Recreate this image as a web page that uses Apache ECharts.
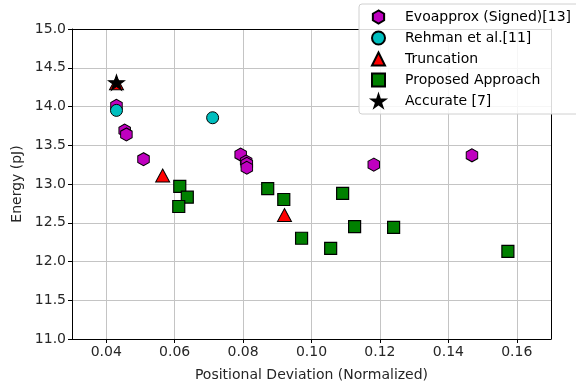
<!DOCTYPE html>
<html>
<head>
<meta charset="utf-8">
<script src="https://cdn.jsdelivr.net/npm/echarts@6/dist/echarts.min.js"></script>
<style>html,body{margin:0;padding:0;background:#fff}#c{width:576px;height:387px}</style>
</head>
<body>
<div id="c"></div>
<script>
// Data
var evoapproxX = [0.0430, 0.0454, 0.0459, 0.0509, 0.0793, 0.0809, 0.0811, 0.0811, 0.1182, 0.1469];
var evoapproxY = [14.01, 13.69, 13.64, 13.32, 13.38, 13.29, 13.26, 13.21, 13.25, 13.37];
var rehmanX = [0.0430, 0.0711];
var rehmanY = [13.95, 13.855];
var truncX = [0.0430, 0.0565, 0.0921];
var truncY = [14.30, 13.11, 12.60];
var proposedX = [0.0615, 0.0637, 0.0612, 0.0872, 0.0919, 0.0971, 0.1056, 0.1091, 0.1126, 0.1240, 0.1574];
var proposedY = [12.97, 12.83, 12.71, 12.94, 12.80, 12.30, 12.17, 12.88, 12.45, 12.44, 12.13];
var accurateX = [0.0430];
var accurateY = [14.31];
var xTicks = [0.04, 0.06, 0.08, 0.10, 0.12, 0.14, 0.16];
var seriesNames = ['Evoapprox (Signed)[13]', 'Rehman et al.[11]', 'Truncation', 'Proposed Approach', 'Accurate [7]'];

function pairs(xs, ys){ return xs.map(function(x,i){ return [x, ys[i]]; }); }

var hexPath = 'path://M0,-1L-0.866,-0.5L-0.866,0.5L0,1L0.866,0.5L0.866,-0.5Z';
var starPath = 'path://M0,-1L0.2245,-0.309L0.9511,-0.309L0.3633,0.118L0.5878,0.809L0,0.382L-0.5878,0.809L-0.3633,0.118L-0.9511,-0.309L-0.2245,-0.309Z';

var FONT = 'DejaVu Sans';
var spine = {show: true, onZero: false, lineStyle: {color: '#000', width: 1}};
var chart = echarts.init(document.getElementById('c'), null, {renderer:'canvas'});
chart.setOption({
  animation: false,
  backgroundColor: '#fff',
  grid: {left: 72, right: 25, top: 29, bottom: 47, containLabel: false},
  xAxis: [{
    type: 'value', min: 0.03, max: 0.17,
    name: 'Positional Deviation (Normalized)', nameLocation: 'middle', nameGap: 29,
    nameTextStyle: {fontFamily: FONT, fontSize: 14, color: '#262626'},
    axisLine: spine,
    axisTick: {show: true, customValues: xTicks, length: 4, lineStyle: {color: '#000'}},
    axisLabel: {customValues: xTicks, fontFamily: FONT, fontSize: 14, color: '#262626', margin: 6,
      formatter: function(v){ return v.toFixed(2); }},
    splitLine: {show: true, lineStyle: {color: '#c4c4c4', width: 1}}
  }, {
    type: 'value', min: 0.03, max: 0.17, position: 'top',
    axisLine: spine, axisTick: {show: false}, axisLabel: {show: false}, splitLine: {show: false}
  }],
  yAxis: [{
    type: 'value', min: 11, max: 15, interval: 0.5,
    name: 'Energy (pJ)', nameLocation: 'middle', nameGap: 46, nameRotate: 90,
    nameTextStyle: {fontFamily: FONT, fontSize: 14, color: '#262626'},
    axisLine: spine,
    axisTick: {show: true, length: 4, lineStyle: {color: '#000'}},
    axisLabel: {fontFamily: FONT, fontSize: 14, color: '#262626', margin: 6,
      formatter: function(v){ return v.toFixed(1); }},
    splitLine: {show: true, lineStyle: {color: '#c4c4c4', width: 1}}
  }, {
    type: 'value', min: 11, max: 15, interval: 0.5, position: 'right',
    axisLine: spine, axisTick: {show: false}, axisLabel: {show: false}, splitLine: {show: false}
  }],
  legend: {
    orient: 'vertical', left: 359, top: 4,
    itemWidth: 13, itemHeight: 13, itemGap: 5,
    padding: [5, 10, 5, 12],
    backgroundColor: 'rgba(255,255,255,0.85)', borderColor: '#d0d0d0', borderWidth: 1, borderRadius: 3,
    textStyle: {fontFamily: FONT, fontSize: 14, lineHeight: 16, color: '#000', padding: [0, 0, 0, 15]},
    data: seriesNames
  },
  series: [
    {name: seriesNames[0], type: 'scatter', data: pairs(evoapproxX, evoapproxY), symbol: hexPath, symbolSize: [11.5, 13],
     itemStyle: {color: '#bf00bf', borderColor: '#000', borderWidth: 1, opacity: 1}},
    {name: seriesNames[1], type: 'scatter', data: pairs(rehmanX, rehmanY), symbol: 'circle', symbolSize: 12,
     itemStyle: {color: '#00bfbf', borderColor: '#000', borderWidth: 1, opacity: 1}},
    {name: seriesNames[2], type: 'scatter', data: pairs(truncX, truncY), symbol: 'triangle', symbolSize: [14, 13],
     itemStyle: {color: '#ff0000', borderColor: '#000', borderWidth: 1, opacity: 1}},
    {name: seriesNames[3], type: 'scatter', data: pairs(proposedX, proposedY), symbol: 'rect', symbolSize: 12,
     itemStyle: {color: '#008000', borderColor: '#000', borderWidth: 1.2, opacity: 1}},
    {name: seriesNames[4], type: 'scatter', data: pairs(accurateX, accurateY), symbol: starPath, symbolSize: [16, 15.2],
     itemStyle: {color: '#000', borderColor: '#000', borderWidth: 1, opacity: 1}}
  ]
});
</script>
</body>
</html>
